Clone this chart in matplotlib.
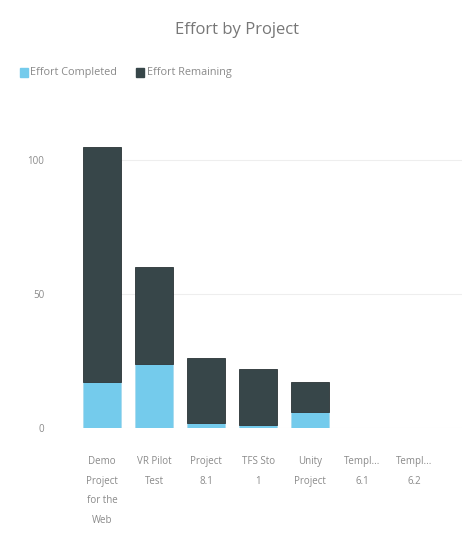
import matplotlib
matplotlib.use("Agg")
import matplotlib.pyplot as plt
import numpy as np

projects = ["Demo\nProject\nfor the\nWeb", "VR Pilot\nTest", "Project\n8.1", "TFS Sto\n1",
            "Unity\nProject", "Templ...\n6.1", "Templ...\n6.2"]
completed = [17, 24, 2, 1, 6, 0, 0]
remaining = [88, 36, 24, 21, 11, 0, 0]
yticks = [0, 50, 100]

col_done = "#74cbec"
col_left = "#374649"
txt = "#8a8a8a"

plt.rcParams['font.family'] = ['Open Sans', 'DejaVu Sans']

fig = plt.figure(figsize=(4.62, 5.35), dpi=100)
ax = fig.add_axes([0.18, 0.2, 0.82, 0.551])

x = np.arange(len(projects))
ax.bar(x, completed, width=0.73, color=col_done, edgecolor="#a9dbee", linewidth=0.6)
ax.bar(x, remaining, width=0.73, bottom=completed, color=col_left, edgecolor="#2a3336", linewidth=0.6)

ax.set_xlim(-0.365, 6.92)
ax.set_ylim(0, 110)
ax.set_yticks(yticks)
ax.set_yticklabels([str(v) for v in yticks], color=txt, fontsize=7)
ax.set_xticks(x)
ax.set_xticklabels(projects, color=txt, fontsize=7, linespacing=2.1, va="top")
ax.tick_params(length=0, pad=28, axis="y")
ax.tick_params(length=0, pad=20, axis="x")
ax.grid(axis="y", color="#eeeeee", linewidth=0.8)
ax.set_axisbelow(True)
for s in ax.spines.values():
    s.set_visible(False)

fig.text(0.513, 0.944, "Effort by Project", ha="center", va="center", fontsize=12, color="#777777")

# legend
fig.patches.append(plt.Rectangle((0.043, 0.856), 0.017, 0.017, transform=fig.transFigure, color=col_done))
fig.text(0.066, 0.864, "Effort Completed", fontsize=7.8, color=txt, va="center")
fig.patches.append(plt.Rectangle((0.295, 0.856), 0.017, 0.017, transform=fig.transFigure, color=col_left))
fig.text(0.318, 0.864, "Effort Remaining", fontsize=7.8, color=txt, va="center")

fig.savefig("out.png", dpi=100)
